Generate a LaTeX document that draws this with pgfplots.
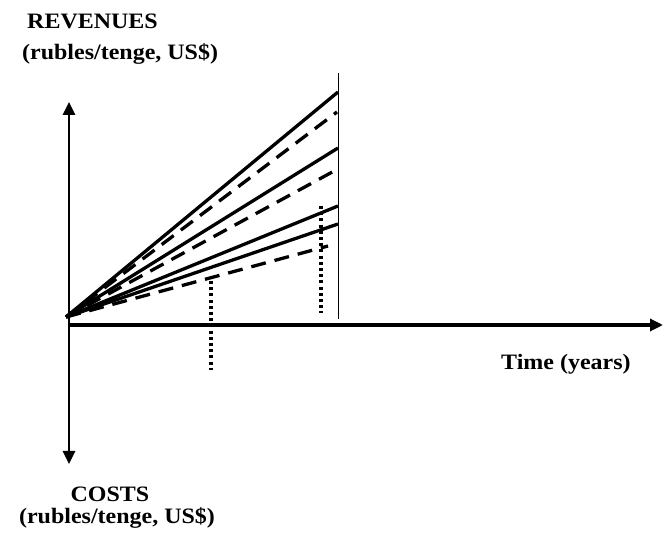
\documentclass[border=0pt]{standalone}
\usepackage{fontspec}
\setmainfont{Liberation Serif}
\newfontfamily\lblfont[FakeStretch=1.09]{Liberation Serif}
\usepackage{pgfplots}
\pgfplotsset{compat=1.18}
\usetikzlibrary{arrows.meta}

\tikzset{lbl/.style={font=\lblfont\bfseries\fontsize{22bp}{26bp}\selectfont, inner sep=0pt}}

\begin{document}
\begin{tikzpicture}
\begin{axis}[
    x=1bp, y=1bp,
    xmin=0, xmax=594,
    ymin=-139, ymax=223,
    axis lines=middle,
    ticks=none,
    clip=false,
    x axis line style={line width=3.2bp, -{Triangle[length=13bp,width=12bp]}},
    y axis line style={line width=2.8bp, {Triangle[length=13bp,width=12bp]}-{Triangle[length=13bp,width=12bp]}},
]
% bounding box of the reference picture
\path (axis cs:-69,-210) rectangle (axis cs:596,325);

% solid revenue lines
\addplot[black, line width=3.3bp] coordinates {(-3,8) (269,233)};
\addplot[black, line width=3.3bp] coordinates {(-3,8) (269,177)};
\addplot[black, line width=3.3bp] coordinates {(-3,8) (269,119)};
\addplot[black, line width=3.3bp] coordinates {(-3,8) (269,101)};

% dashed lines
\addplot[black, line width=3.3bp, dash pattern=on 15bp off 9bp] coordinates {(-3,8) (268,213)};
\addplot[black, line width=3.3bp, dash pattern=on 15bp off 9bp] coordinates {(-3,8) (267,155)};
\addplot[black, line width=3.3bp, dash pattern=on 15bp off 9bp] coordinates {(-3,8) (259,79)};

% thin horizon line
\addplot[black, line width=1.3bp] coordinates {(269.5,6) (269.5,252)};

% dotted verticals
\addplot[black, line width=3.3bp, dash pattern=on 3bp off 3.2bp] coordinates {(142,44) (142,-45)};
\addplot[black, line width=3.3bp, dash pattern=on 3bp off 3.2bp] coordinates {(252,119) (252,12)};

% labels
\node[lbl, anchor=base west] at (axis cs:-42,296) {REVENUES};
\node[lbl, anchor=base west] at (axis cs:-47,265) {(rubles/tenge, US\$)};
\node[lbl, anchor=base] at (axis cs:41,-177) {COSTS};
\node[lbl, anchor=base] at (axis cs:48,-199) {(rubles/tenge, US\$)};
\node[lbl, anchor=base west] at (axis cs:432,-45) {Time (years)};
\end{axis}
\end{tikzpicture}
\end{document}
